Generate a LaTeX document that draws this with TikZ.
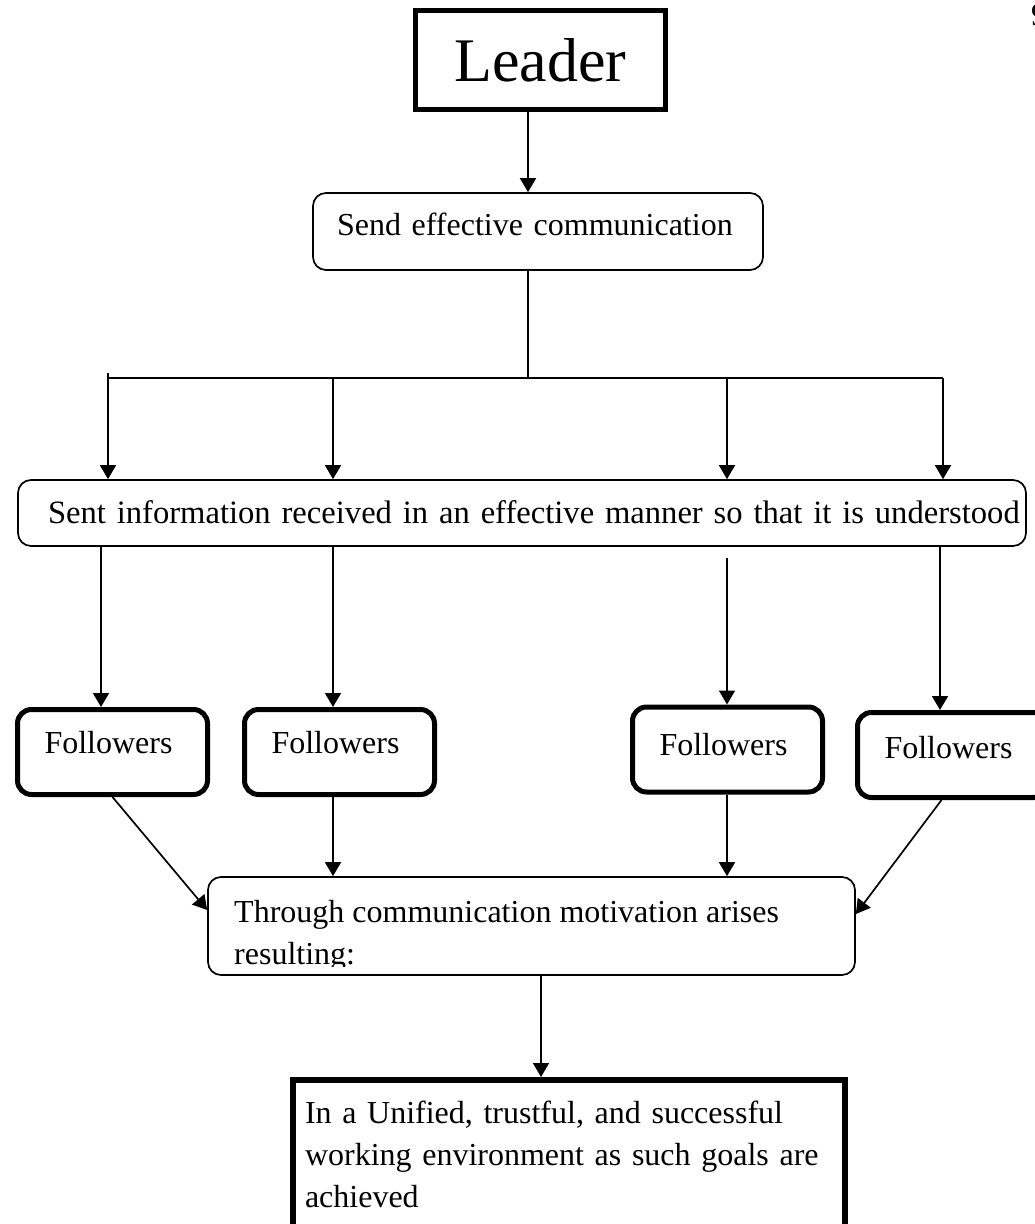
\documentclass[tikz,border=0pt]{standalone}
\usepackage{fontspec}
\setmainfont{Liberation Serif}
\usetikzlibrary{arrows.meta}
\begin{document}
\begin{tikzpicture}[x=1pt,y=-1pt,
  txt/.style={font=\fontsize{32}{42}\selectfont},
  link/.style={line width=1.7pt,-{Triangle[length=14pt,width=16pt]}},
  wire/.style={line width=1.7pt},
  softbox/.style={draw,line width=1.7pt,rounded corners=13pt,inner ysep=0pt,align=left,txt},
  followbox/.style={draw,line width=5pt,rounded corners=14pt,minimum width=190pt,
    minimum height=85pt,inner xsep=27pt,inner ysep=0pt,text width=136pt,align=left,txt,
    text height=21pt},
]
\useasboundingbox (0,0) rectangle (1034,1224);

% column positions of the connectors
\coordinate (trunk) at (528,0);
\coordinate (b1) at (108,373);
\coordinate (b2) at (333,0);
\coordinate (b3) at (727,0);
\coordinate (b4) at (943,0);
\coordinate (c1) at (101,0);
\coordinate (c2) at (333,0);
\coordinate (c3) at (727,558);
\coordinate (c4) at (940,0);
\coordinate (down) at (541,0);

% boxes
\node[draw,line width=5pt,minimum width=250pt,minimum height=99pt,inner sep=0pt,
  font=\fontsize{62}{70}\selectfont] (leader) at (540.5,60) {Leader};

\node[softbox,minimum width=450pt,minimum height=77pt,inner xsep=24pt,text width=402pt,
  text height=21pt,text depth=14pt] (send) at (538,231.5) {Send effective communication};

\node[softbox,minimum width=1008pt,minimum height=66pt,inner xsep=30pt,text width=948pt,
  text height=21pt,text depth=0pt,font=\fontsize{32.6}{40}\selectfont] (info) at (522,513)
  {\mbox{Sent information received in an effective manner so that it is understood}};

\node[followbox,text depth=19pt] (f1) at (112.5,752) {Followers};
\node[followbox,text depth=19pt] (f2) at (339.5,752) {Followers};
\node[followbox,text depth=10pt] (f3) at (727.5,749.5) {Followers};
\node[followbox,text depth=15pt] (f4) at (952.5,755) {Followers};

% middle box: its second line is cut off by the text frame
\node[draw,line width=1.7pt,rounded corners=13pt,minimum width=647pt,minimum height=98pt,
  inner sep=0pt] (through) at (531.5,926) {};
\begin{scope}
  \clip (210,880) rectangle (850,966);
  \node[anchor=base west,inner sep=0pt,align=left,font=\fontsize{32}{42}\selectfont]
    (throughtext) at (234,964) {Through communication motivation arises\\resulting:};
\end{scope}

\node[draw,line width=6pt,minimum width=552pt,minimum height=160pt,inner xsep=12pt,
  inner ysep=0pt,text width=528pt,align=left,txt,text height=21pt,text depth=95pt]
  (final) at (569,1160)
  {In a Unified, trustful, and successful\\working environment as such goals are\\achieved};

\node[anchor=north west,inner sep=0pt,txt] (pagenum) at (1031,4) {9};

% connectors
\draw[link] (leader.south -| trunk) -- (send.north -| trunk);
\coordinate (bus) at (528,378);
\draw[wire] (send.south -| trunk) -- (bus);
\draw[wire] (b1 |- bus) -- (b4 |- bus);
\draw[link] (b1) -- (b1 |- info.north);
\draw[link] (b2 |- bus) -- (b2 |- info.north);
\draw[link] (b3 |- bus) -- (b3 |- info.north);
\draw[link] (b4 |- bus) -- (b4 |- info.north);

\draw[link] (c1 |- info.south) -- (c1 |- f1.north);
\draw[link] (c2 |- info.south) -- (c2 |- f2.north);
\draw[link] (c3) -- (c3 |- f3.north);
\draw[link] (c4 |- info.south) -- (c4 |- f4.north);

\draw[link] (f1.south) -- ([yshift=16pt]through.west);
\draw[link] (c2 |- f2.south) -- (c2 |- through.north);
\draw[link] (c3 |- f3.south) -- (c3 |- through.north);
\draw[link] ([xshift=-11pt]f4.south) -- ([yshift=12pt]through.east);

\draw[link] (through.south -| down) -- (final.north -| down);
\end{tikzpicture}
\end{document}
